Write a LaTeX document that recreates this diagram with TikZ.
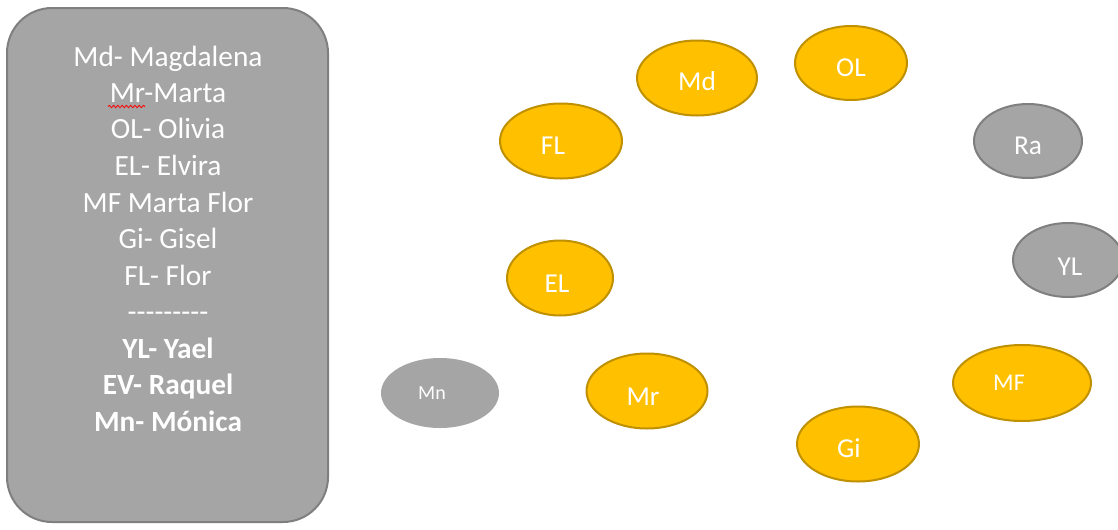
\documentclass[tikz,border=0pt]{standalone}
\usepackage{fontspec}
\setmainfont{Carlito}
\usetikzlibrary{shapes.geometric,decorations.pathmorphing}
\definecolor{boxgray}{HTML}{A5A5A5}
\definecolor{boxedge}{HTML}{7F7F7F}
\definecolor{gold}{HTML}{FFC000}
\definecolor{goldedge}{HTML}{BF9000}
\def\px{0.75pt}
\tikzset{
  listline/.style={anchor=base,text=white,inner sep=0pt,font=\fontsize{22}{26}\selectfont},
  listbold/.style={listline,font=\fontsize{22}{26}\selectfont\bfseries},
  person/.style={ellipse,draw=goldedge,fill=gold,line width=1.5pt,inner sep=0pt},
  guest/.style={ellipse,draw=boxedge,fill=boxgray,line width=1.5pt,inner sep=0pt},
  lbl/.style={text=white,inner sep=0pt,font=\fontsize{20.5}{24}\selectfont},
}
\begin{document}
\begin{tikzpicture}[x=0.75pt,y=-0.75pt]
\useasboundingbox (0,0) rectangle (1118,529);
\fill[white] (0,0) rectangle (1118,529);
% legend box
\draw[fill=boxgray,draw=boxedge,line width=1.5pt,rounded corners=45*\px] (7,8) rectangle (328,522);
\node[listline] (l1) at (168,66) {Md- Magdalena};
\node[listline] (l2) at (168,102) {Mr-Marta};
\node[listline] (l3) at (168,138) {OL- Olivia};
\node[listline] (l4) at (168,175) {EL- Elvira};
\node[listline] (l5) at (168,212) {MF Marta Flor};
\node[listline] (l6) at (168,248) {Gi- Gisel};
\node[listline] (l7) at (168,285) {FL- Flor};
\node[listline] (l8) at (168,321) {-{}-{}-{}-{}-{}-{}-{}-{}-};
\node[listbold] (l9) at (168,358) {YL- Yael};
\node[listbold] (l10) at (168,394) {EV- Raquel};
\node[listbold] (l11) at (168,431) {Mn- Mónica};
\draw[red,line width=0.6pt,decorate,decoration={snake,amplitude=0.9pt,segment length=3.2pt}] (108,106.5) -- (145,106.5);
% ellipses
\node[person,minimum width=120*\px,minimum height=75*\px,label={[lbl,yshift=-3*\px]center:Md}] (Md) at (697,78) {};
\node[person,minimum width=112*\px,minimum height=74*\px,label={[lbl,yshift=-5*\px]center:OL}] (OL) at (851,63) {};
\node[person,minimum width=122*\px,minimum height=75*\px,label={[lbl,xshift=-8*\px,yshift=-5*\px]center:FL}] (FL) at (561,141) {};
\node[person,minimum width=106*\px,minimum height=75*\px,label={[lbl,xshift=-3*\px,yshift=-6*\px]center:EL}] (EL) at (560,278) {};
\node[person,minimum width=121*\px,minimum height=75*\px,label={[lbl,xshift=-4*\px,yshift=-6*\px]center:Mr}] (Mr) at (647,391) {};
\node[person,minimum width=122*\px,minimum height=75*\px,label={[lbl,xshift=-9*\px,yshift=-4*\px]center:Gi}] (Gi) at (858,444) {};
\node[person,minimum width=138*\px,minimum height=76*\px,label={[lbl,font=\fontsize{18}{22}\selectfont,xshift=-13*\px]center:MF}] (MF) at (1022,383) {};
\node[guest,minimum width=108*\px,minimum height=74*\px,label={[lbl,yshift=-5*\px]center:Ra}] (Ra) at (1028,141) {};
\node[guest,minimum width=110*\px,minimum height=74*\px,label={[lbl,xshift=2*\px,yshift=-7*\px]center:YL}] (YL) at (1068,260) {};
\node[guest,draw=none,minimum width=118*\px,minimum height=70*\px,label={[lbl,font=\fontsize{15}{18}\selectfont,xshift=-8*\px]center:Mn}] (Mn) at (440,393) {};
\end{tikzpicture}
\end{document}
